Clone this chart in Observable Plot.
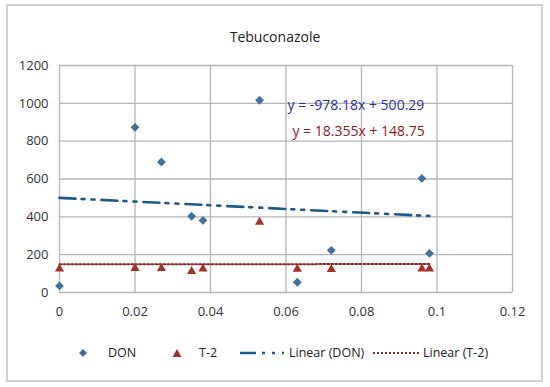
<!DOCTYPE html>
<html><head><meta charset="utf-8">
<script src="https://cdn.jsdelivr.net/npm/d3@7"></script>
<script src="https://cdn.jsdelivr.net/npm/@observablehq/plot@0.6"></script>
<style>
body{margin:0;background:#fff;font-family:"Open Sans",sans-serif;}
#wrap{position:relative;width:550px;height:387px;overflow:hidden;background:#fff;}
#frame{position:absolute;left:6px;top:4px;width:537px;height:378px;border:2px solid #d2d2d2;box-sizing:border-box;}
#title{position:absolute;top:27px;left:0;width:550px;text-align:center;font-size:14px;line-height:19px;color:#222;}
#chart{position:absolute;left:0;top:50px;}
.lg{position:absolute;top:344px;height:18px;line-height:18px;font-size:12.5px;color:#222;white-space:nowrap;}
.lg svg{position:absolute;top:0;}
</style></head>
<body><div id="wrap"><div id="frame"></div><div id="title"></div><div id="chart"></div><div id="legend"></div></div>
<script>
const title = "Tebuconazole";
const xTicks = [0, 0.02, 0.04, 0.06, 0.08, 0.1, 0.12];
const yTicks = [0, 200, 400, 600, 800, 1000, 1200];
const conc = [0, 0.02, 0.027, 0.035, 0.038, 0.053, 0.063, 0.072, 0.096, 0.098];
const don  = [35, 873, 690, 403, 381, 1016, 54, 223, 603, 207];
const t2   = [125, 128, 127, 112, 125, 372, 124, 123, 125, 125];
const seriesNames = ["DON", "T-2"];
const slopes = [-978.18, 18.355];
const intercepts = [500.29, 148.75];
const equations = ["y = -978.18x + 500.29", "y = 18.355x + 148.75"];
const eqPosX = [0.0604, 0.0617];
const eqPosY = [989, 852];
const colors = {donDot:"#44709c", t2Dot:"#a3302d", donLine:"#1c5a87", t2Line:"#8e2626", eq1:"#2e2e9e", eq2:"#8b1a1a"};

document.getElementById("title").textContent = title;

const donRows = conc.map((c,i)=>({x:c, y:don[i]}));
const t2Rows = conc.map((c,i)=>({x:c, y:t2[i]}));
const xr = d3.extent(conc);
const trend = k => xr.map(x=>({x, y: slopes[k]*x + intercepts[k]}));
const eqRows = equations.map((t,i)=>({x:eqPosX[i], y:eqPosY[i], t}));

const fmt = d => d === 0 ? "0" : String(+d.toFixed(2));

const plot = Plot.plot({
  width: 550, height: 280,
  marginLeft: 59, marginRight: 38, marginTop: 15, marginBottom: 38,
  style: {fontFamily: "Open Sans", fontSize: "13px", color: "#333", background: "transparent"},
  x: {domain: [0, 0.12], ticks: xTicks, tickFormat: fmt, tickSize: 0, tickPadding: 14, label: null},
  y: {domain: [0, 1200], ticks: yTicks, tickFormat: d => String(d), tickSize: 0, tickPadding: 11, label: null},
  marks: [
    Plot.ruleX(xTicks, {stroke: "#b5b5b5", strokeWidth: 1.3}),
    Plot.ruleY(yTicks, {stroke: "#b5b5b5", strokeWidth: 1.3}),
    Plot.line(trend(0), {x: "x", y: "y", stroke: colors.donLine, strokeWidth: 2.6, strokeDasharray: "16,6,3,7,3,7"}),
    Plot.line(trend(1), {x: "x", y: "y", stroke: colors.t2Line, strokeWidth: 2, strokeDasharray: "2,2"}),
    Plot.dot(donRows, {x: "x", y: "y", symbol: "diamond2", fill: colors.donDot, stroke: "none", r: 4}),
    Plot.dot(t2Rows, {x: "x", y: "y", symbol: "triangle", fill: colors.t2Dot, stroke: "none", r: 3.4}),
    Plot.text([eqRows[0]], {x: "x", y: "y", text: "t", textAnchor: "start", fill: colors.eq1, fontSize: 14, letterSpacing: "-0.2px"}),
    Plot.text([eqRows[1]], {x: "x", y: "y", text: "t", textAnchor: "start", fill: colors.eq2, fontSize: 14, letterSpacing: "-0.2px"})
  ]
});
document.getElementById("chart").appendChild(plot);

const legend = document.getElementById("legend");
const items = [
  {left: 78, svg: `<svg width="10" height="18"><path d="M5 5L9 9L5 13L1 9Z" fill="${colors.donDot}"/></svg>`, text: seriesNames[0], tx: 30},
  {left: 172, svg: `<svg width="10" height="18"><path d="M5 5L9.5 13L0.5 13Z" fill="${colors.t2Dot}"/></svg>`, text: seriesNames[1], tx: 27},
  {left: 240, svg: `<svg width="46" height="18"><line x1="0" y1="9" x2="44" y2="9" stroke="${colors.donLine}" stroke-width="2.6" stroke-dasharray="16,6,3,7,3,7"/></svg>`, text: "Linear (" + seriesNames[0] + ")", tx: 49},
  {left: 373, svg: `<svg width="46" height="18"><line x1="0" y1="9" x2="46" y2="9" stroke="${colors.t2Line}" stroke-width="2" stroke-dasharray="2,2"/></svg>`, text: "Linear (" + seriesNames[1] + ")", tx: 50}
];
for (const it of items) {
  const d = document.createElement("div");
  d.className = "lg";
  d.style.left = it.left + "px";
  d.innerHTML = it.svg + `<span style="position:absolute;left:${it.tx}px;">${it.text}</span>`;
  legend.appendChild(d);
}
</script></body></html>
